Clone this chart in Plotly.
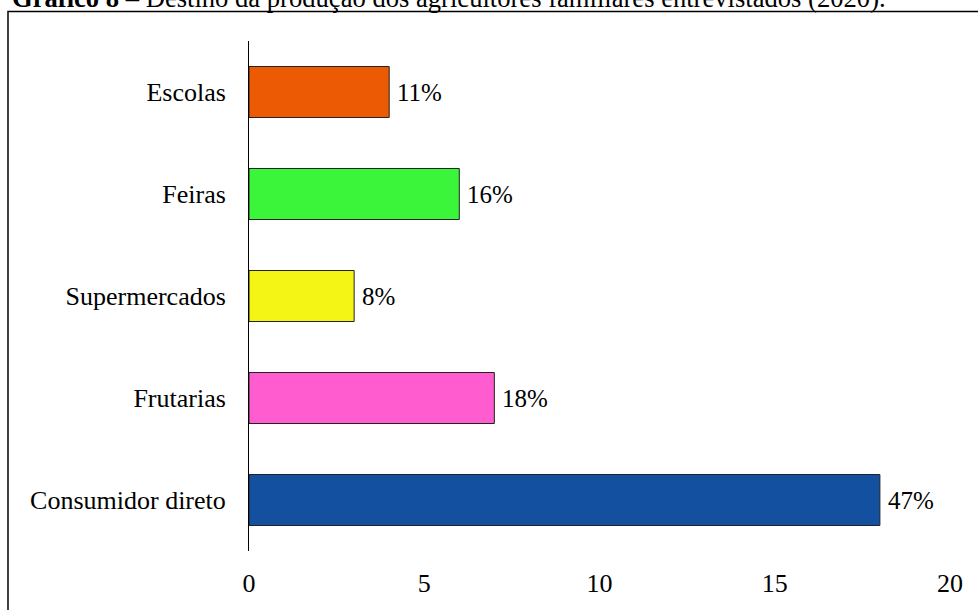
import plotly.graph_objects as go

# destinos (de baixo para cima)
categorias = ['Consumidor direto', 'Frutarias', 'Supermercados', 'Feiras', 'Escolas']
valores = [18, 7, 3, 6, 4]
rotulos = ['47%', '18%', '8%', '16%', '11%']
cores = ['#1350A0', '#FF5CCF', '#F5F515', '#3AF53A', '#EC5A04']
x_ticks = [0, 5, 10, 15, 20]

FONTE = 'Liberation Serif, Times New Roman, serif'

fig = go.Figure()

fig.add_trace(go.Bar(
    y=categorias,
    x=valores,
    orientation='h',
    width=0.5,
    marker=dict(color=cores, line=dict(color='#222222', width=1)),
    showlegend=False,
    hoverinfo='x+y',
))

# rótulos de percentual à direita das barras
for cat, val, rot in zip(categorias, valores, rotulos):
    fig.add_annotation(
        x=val, y=cat, text=rot,
        xanchor='left', yanchor='middle', xshift=6,
        showarrow=False,
        font=dict(family=FONTE, size=25, color='black'),
    )

# moldura do gráfico
fig.add_shape(
    type='rect', xref='paper', yref='paper',
    x0=-0.3438, x1=1.06, y0=-0.25, y1=1.058,
    line=dict(color='black', width=1.5),
    fillcolor='rgba(0,0,0,0)',
)

# título (cortado no topo, como no original)
fig.add_annotation(
    text='<b>Gráfico 8</b> – Destino da produção dos agricultores familiares entrevistados (2020).',
    xref='paper', yref='paper',
    x=-0.3415, y=1.050, xanchor='left', yanchor='bottom',
    showarrow=False,
    font=dict(family=FONTE, size=26.6, color='black'),
)

fig.update_xaxes(
    range=[0, 20],
    tickvals=x_ticks,
    showgrid=False,
    zeroline=False,
    showline=False,
    ticks='',
    ticklabelstandoff=14,
    tickfont=dict(family=FONTE, size=26, color='black'),
)

fig.update_yaxes(
    categoryorder='array',
    categoryarray=categorias,
    range=[-0.5, 4.5],
    showgrid=False,
    zeroline=False,
    showline=True,
    linecolor='black',
    linewidth=1,
    ticks='',
    ticklabelstandoff=17,
    tickfont=dict(family=FONTE, size=26, color='black'),
)

fig.update_layout(
    width=978,
    height=610,
    margin=dict(l=249, r=28, t=41, b=56),
    plot_bgcolor='white',
    paper_bgcolor='white',
    font=dict(family=FONTE, color='black'),
)

# sem margem do <body>, para o gráfico ocupar a janela a partir de (0, 0)
fig.write_html(
    'out.html',
    config={'displayModeBar': False},
    post_script="document.body.style.margin='0px';",
)
